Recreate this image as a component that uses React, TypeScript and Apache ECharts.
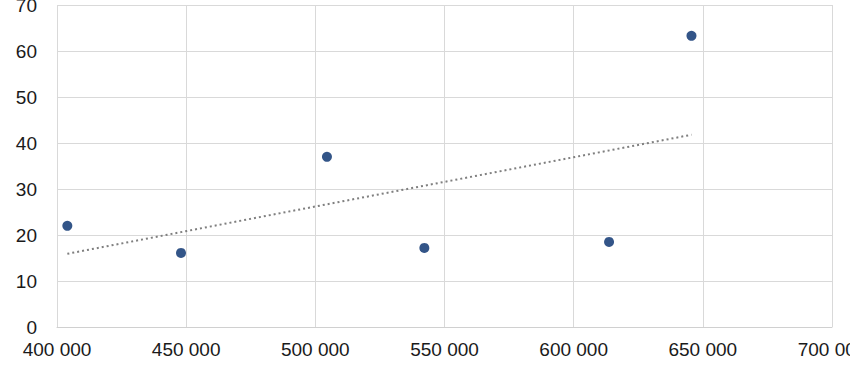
import React, { useEffect, useRef } from "react";
import * as echarts from "echarts";

const xValues = [404000, 448000, 504500, 542200, 613700, 645600];
const yValues = [22, 16.1, 37, 17.2, 18.5, 63.3];
const xTicks = { min: 400000, max: 700000, interval: 50000 };
const yTicks = { min: 0, max: 70, interval: 10 };

function trend(xs: number[], ys: number[]) {
  const n = xs.length;
  const mx = xs.reduce((a, b) => a + b, 0) / n;
  const my = ys.reduce((a, b) => a + b, 0) / n;
  let sxy = 0, sxx = 0;
  for (let i = 0; i < n; i++) {
    sxy += (xs[i] - mx) * (ys[i] - my);
    sxx += (xs[i] - mx) ** 2;
  }
  const b = sxy / sxx;
  const a = my - b * mx;
  const x0 = Math.min(...xs), x1 = Math.max(...xs);
  return [[x0, a + b * x0], [x1, a + b * x1]];
}

const fmt = (v: number) => {
  const s = String(Math.round(v));
  return s.replace(/\B(?=(\d{3})+(?!\d))/g, " ");
};

export default function App() {
  const ref = useRef<HTMLDivElement>(null);
  useEffect(() => {
    document.body.style.margin = "0";
    if (!ref.current) return;
    const chart = echarts.init(ref.current, null, { renderer: "svg" });
    const font = "'Liberation Sans', Arial, sans-serif";
    chart.setOption({
      animation: false,
      backgroundColor: "#ffffff",
      grid: {
        left: 57,
        right: 18,
        top: 5,
        bottom: 52,
        containLabel: false,
        outerBoundsMode: "none",
        show: false,
      },
      xAxis: {
        type: "value",
        min: xTicks.min,
        max: xTicks.max,
        interval: xTicks.interval,
        axisLine: { show: true, lineStyle: { color: "#d0d0d0", width: 1 } },
        axisTick: { show: false },
        splitLine: { show: true, lineStyle: { color: "#d9d9d9", width: 1 } },
        axisLabel: {
          formatter: fmt,
          color: "#1a1a1a",
          fontSize: 19,
          fontFamily: font,
          margin: 13,
          hideOverlap: false,
        },
      },
      yAxis: {
        type: "value",
        min: yTicks.min,
        max: yTicks.max,
        interval: yTicks.interval,
        axisLine: { show: false },
        axisTick: { show: false },
        splitLine: { show: true, lineStyle: { color: "#d9d9d9", width: 1 } },
        axisLabel: {
          color: "#1a1a1a",
          fontSize: 19,
          fontFamily: font,
          margin: 20,
        },
      },
      series: [
        {
          type: "line",
          data: trend(xValues, yValues),
          symbol: "none",
          lineStyle: { color: "#7f7f7f", width: 2, type: [2, 3] },
          z: 2,
        },
        {
          type: "scatter",
          data: xValues.map((x, i) => [x, yValues[i]]),
          symbol: "circle",
          symbolSize: 10,
          itemStyle: { color: "#002a6a" },
          z: 3,
        },
      ],
    });
    return () => chart.dispose();
  }, []);
  return <div ref={ref} style={{ width: 850, height: 379 }} />;
}
